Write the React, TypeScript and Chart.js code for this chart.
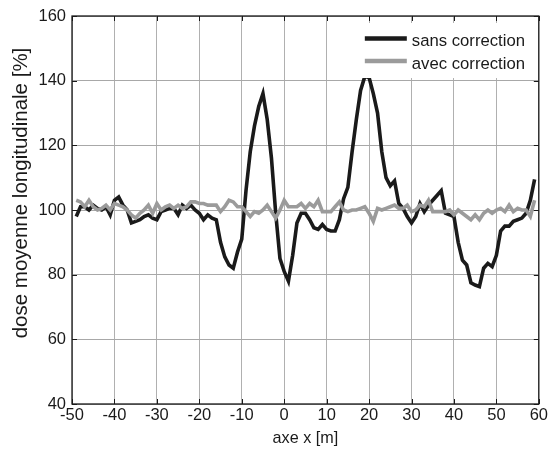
import React, { useEffect, useRef } from "react";
import { Chart, registerables } from "chart.js";

Chart.register(...registerables);

const FONT = "'Liberation Sans', Arial, Helvetica, sans-serif";

const xPositions = [
  -49, -48, -47, -46, -45, -44, -43, -42, -41, -40,
  -39, -38, -37, -36, -35, -34, -33, -32, -31, -30,
  -29, -28, -27, -26, -25, -24, -23, -22, -21, -20,
  -19, -18, -17, -16, -15, -14, -13, -12, -11, -10,
  -9, -8, -7, -6, -5, -4, -3, -2, -1, 0,
  1, 2, 3, 4, 5, 6, 7, 8, 9, 10,
  11, 12, 13, 14, 15, 16, 17, 18, 19, 20,
  21, 22, 23, 24, 25, 26, 27, 28, 29, 30,
  31, 32, 33, 34, 35, 36, 37, 38, 39, 40,
  41, 42, 43, 44, 45, 46, 47, 48, 49, 50,
  51, 52, 53, 54, 55, 56, 57, 58, 59,
];

const sansCorrection = [
  98, 101, 101, 100, 101.5, 100.5, 100, 101, 98.5, 103,
  104, 101.5, 100, 96, 96.5, 97, 98, 98.5, 97.5, 97,
  99.5, 100, 100.5, 100.5, 98.5, 101.5, 100.5, 101.5, 100, 99,
  97, 98.5, 97.5, 97, 90, 85.5, 83, 82, 87, 91,
  106, 118, 126, 132, 136, 128, 116, 99, 85, 81,
  78, 86, 96, 99, 99, 97, 94.5, 94, 95.5, 94,
  93.5, 93.5, 97, 103.5, 107, 118, 128, 137, 141.3, 141,
  136, 130, 118, 110, 107.5, 109, 102, 100.5, 98, 96,
  98, 102, 99.5, 101.5, 103, 104.5, 106, 99, 98.5, 98,
  90, 84.5, 83, 77.5, 76.8, 76.3, 82, 83.5, 82.5, 86,
  93.5, 95, 95, 96.5, 97, 97.5, 99, 103, 109.5,
];

const avecCorrection = [
  103, 102.5, 101, 103, 101, 100, 100.5, 101.5, 100, 102,
  101.5, 101, 100, 98.5, 97.5, 99, 100, 101.5, 99, 102,
  100, 101, 101.5, 100.5, 101.5, 100.5, 101, 102.5, 102.5, 102,
  102, 101.5, 101.5, 101.5, 99.5, 101, 103, 102.5, 101, 101,
  99.5, 98, 99.5, 99, 100, 101.5, 99.5, 97.5, 100, 103,
  101, 101, 101, 102, 100.5, 102, 101, 103, 99.5, 99.5,
  99.5, 101, 102.5, 100, 99.5, 100, 100, 100.5, 101, 99,
  96.5, 100.5, 100, 100.5, 101, 101.5, 100.5, 100.5, 101.5, 99.5,
  100, 101.5, 101, 103, 99.5, 99.5, 99.5, 99.5, 100, 98.5,
  100, 99, 98, 97, 98.5, 97, 99, 100, 99, 100,
  100.5, 99.5, 101.5, 99.5, 100.5, 100, 100, 98, 103,
];

const seriesNames = ["sans correction", "avec correction"];
const seriesColors = ["#1a1a1a", "#9b9b9b"];
const xTitle = "axe x [m]";
const yTitle = "dose moyenne longitudinale [%]";
const xRange = [-50, 60];
const yRange = [40, 160];
const xStep = 10;
const yStep = 20;

const framePlugin = {
  id: "matlabFrame",
  afterDatasetsDraw(chart: any, _args: any, opts: any) {
    const { ctx, chartArea } = chart;
    const { top, right } = chartArea;
    ctx.save();
    // legend background (white, no border)
    ctx.fillStyle = "#ffffff";
    ctx.fillRect(right - 183, top + 7, 181, 55);
    const ds = chart.data.datasets;
    ds.forEach((d: any, i: number) => {
      const ly = top + 22.5 + i * 22.5;
      ctx.strokeStyle = d.borderColor;
      ctx.lineWidth = 4.5;
      ctx.beginPath();
      ctx.moveTo(right - 174, ly);
      ctx.lineTo(right - 132, ly);
      ctx.stroke();
      ctx.fillStyle = "#1a1a1a";
      ctx.font = `16.7px ${FONT}`;
      ctx.textAlign = "left";
      ctx.textBaseline = "alphabetic";
      ctx.fillText(d.label, right - 127, ly + 7.6);
    });
    ctx.restore();
  },
  afterDraw(chart: any, _args: any, opts: any) {
    const { ctx, chartArea, scales } = chart;
    const { left, right, top, bottom } = chartArea;
    ctx.save();
    ctx.strokeStyle = "#1a1a1a";
    ctx.lineWidth = 1.3;
    ctx.strokeRect(left, top, right - left, bottom - top);
    ctx.lineWidth = 1;
    const seg = (x1: number, y1: number, x2: number, y2: number) => {
      ctx.beginPath();
      ctx.moveTo(x1, y1);
      ctx.lineTo(x2, y2);
      ctx.stroke();
    };
    scales.x.ticks.forEach((t: any) => {
      const px = Math.round(scales.x.getPixelForValue(t.value)) + 0.5;
      seg(px, bottom, px, bottom - 5);
      seg(px, top, px, top + 5);
    });
    scales.y.ticks.forEach((t: any) => {
      const py = Math.round(scales.y.getPixelForValue(t.value)) + 0.5;
      seg(left, py, left + 5, py);
      seg(right, py, right - 5, py);
    });
    // y-axis title (MATLAB places it slightly above the axis centre)
    if (opts && opts.yTitle) {
      ctx.save();
      ctx.translate(21.5, (top + bottom) / 2 - 17);
      ctx.rotate(-Math.PI / 2);
      ctx.fillStyle = "#1a1a1a";
      ctx.font = `20.5px ${FONT}`;
      ctx.textAlign = "center";
      ctx.textBaseline = "middle";
      ctx.fillText(opts.yTitle, 0, 0);
      ctx.restore();
    }
    ctx.restore();
  },
};

export default function App() {
  const ref = useRef<HTMLCanvasElement>(null);

  useEffect(() => {
    const canvas = ref.current;
    if (!canvas) return;
    const chart = new Chart(canvas, {
      type: "line",
      data: {
        datasets: [
          {
            label: seriesNames[0],
            data: xPositions.map((x, i) => ({ x, y: sansCorrection[i] })),
            borderColor: seriesColors[0],
            backgroundColor: seriesColors[0],
            borderWidth: 3.6,
            pointRadius: 0,
            tension: 0,
            order: 1,
          },
          {
            label: seriesNames[1],
            data: xPositions.map((x, i) => ({ x, y: avecCorrection[i] })),
            borderColor: seriesColors[1],
            backgroundColor: seriesColors[1],
            borderWidth: 3.6,
            pointRadius: 0,
            tension: 0,
            order: 0,
          },
        ],
      },
      options: {
        responsive: false,
        animation: false,
        layout: { padding: { left: 0, right: 11, top: 16, bottom: 0 } },
        plugins: {
          legend: { display: false },
          tooltip: { enabled: false },
          matlabFrame: { yTitle },
        } as any,
        scales: {
          x: {
            type: "linear",
            min: xRange[0],
            max: xRange[1],
            ticks: {
              stepSize: xStep,
              color: "#1a1a1a",
              font: { family: FONT, size: 16.5 },
              padding: 2,
              maxRotation: 0,
              autoSkip: false,
            },
            grid: { color: "#b0b0b0", lineWidth: 1, drawTicks: false },
            border: { display: false },
            title: {
              display: true,
              text: xTitle,
              color: "#1a1a1a",
              font: { family: FONT, size: 16.2 },
              padding: { top: 0, bottom: 3 },
            },
            afterFit: (s: any) => {
              s.height = 47;
            },
          },
          y: {
            type: "linear",
            min: yRange[0],
            max: yRange[1],
            ticks: {
              stepSize: yStep,
              color: "#1a1a1a",
              font: { family: FONT, size: 16.5 },
              padding: 6,
            },
            grid: {
              color: "#a8a8a8",
              lineWidth: 1,
              drawTicks: false,
            },
            border: { display: false },
            afterFit: (s: any) => {
              s.width = 72;
            },
          },
        },
      },
      plugins: [framePlugin],
    });
    return () => chart.destroy();
  }, []);

  return (
    <div style={{ position: "absolute", left: 0, top: 0, width: 550, height: 451, background: "#ffffff" }}>
      <canvas ref={ref} width={550} height={451} />
    </div>
  );
}
